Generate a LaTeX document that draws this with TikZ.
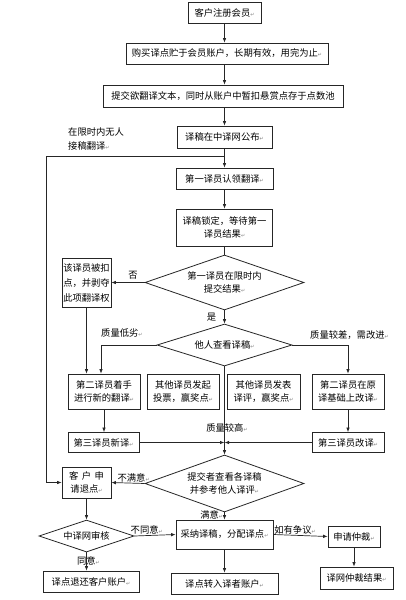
\documentclass[tikz,border=0pt]{standalone}
\usepackage{fontspec}
\setmainfont{Noto Sans CJK SC}
\newfontfamily\dvs{DejaVu Sans}
\usetikzlibrary{shapes.geometric,arrows.meta}
\newcommand\rmk{{\dvs\fontsize{5}{5}\selectfont\color{gray}↵}}
\tikzset{
  every node/.style={font=\fontsize{9.3}{13.5}\selectfont, inner sep=0pt},
  box/.style={draw=black!85, line width=0.8pt, align=center},
  bx/.style 2 args={box, minimum width=#1pt, minimum height=#2pt},
  dia/.style n args={3}{draw=black!85, diamond, line width=0.8pt, align=center, inner sep=0pt, minimum width=#1pt, minimum height=#2pt, aspect=#3},
  lbl/.style={font=\fontsize{9.3}{14}\selectfont, align=left},
  arr/.style={draw=black!85, -{Latex[length=4.5pt,width=3.5pt]}, line width=0.7pt},
  ln/.style={draw=black!85, line width=0.7pt}
}
\begin{document}
\begin{tikzpicture}[x=1pt,y=-1pt]
\useasboundingbox[fill=white] (0,0) rectangle (405,600);

% main column
\node[bx={73}{21}] (n1) at (224.5,12.5) {客户注册会员\rmk};
\node[bx={202}{21}] (n2) at (227,53.5) {购买译点贮于会员账户，长期有效，用完为止\rmk};
\node[bx={240}{22}] (n3) at (223,96) {提交欲翻译文本，同时从账户中暂扣悬赏点存于点数池};
\node[bx={95}{22}] (n4) at (224.5,137) {译稿在中译网公布\rmk};
\node[bx={97}{21}] (n5) at (224.5,178.5) {第一译员认领翻译\rmk};
\node[bx={96}{37}] (n6) at (224.5,227.5) {译稿锁定，等待第一\\译员结果\rmk};
\node[dia={159}{55}{2.9}] (d1) at (224.5,282.5) {第一译员在限时内\\提交结果\rmk};
\node[bx={49}{49}, align=left, font=\fontsize{9.3}{15}\selectfont] (n7) at (86.5,282.5) {该译员被扣\\点，并剥夺\\此项翻译权};
\node[dia={135}{42}{3.2}] (d2) at (224.5,345) {他人查看译稿\rmk};

\node[bx={72}{35}] (nA) at (104,391.5) {第二译员着手\\进行新的翻译\rmk};
\node[bx={72}{35}] (nB) at (183,391.5) {其他译员发起\\投票，赢奖点\rmk};
\node[bx={73}{35}] (nC) at (263.5,391.5) {其他译员发表\\译评，赢奖点\rmk};
\node[bx={72}{35}] (nD) at (348,391.5) {第二译员在原\\译基础上改译\rmk};
\node[bx={71}{20}] (nE) at (103.5,442.5) {第三译员新译\rmk};
\node[bx={72}{20}] (nF) at (348,442.5) {第三译员改译\rmk};

\node[dia={159}{57}{2.8}] (d3) at (224.5,483.5) {提交者查看各译稿\\并参考他人译评\rmk};
\node[bx={49}{31}] (nG) at (86.5,482.5) {客\hspace{3.5pt}户\hspace{3.5pt}申\\请退点\rmk};
\node[dia={95}{32}{3}] (d4) at (86.5,536) {中译网审核};
\node[bx={97}{29}] (nH) at (224.5,534.5) {采纳译稿，分配译点\rmk};
\node[bx={96}{21}] (nI) at (91,581.5) {译点退还客户账户\rmk};
\node[bx={107}{21}] (nJ) at (224.5,583.5) {译点转入译者账户\rmk};
\node[bx={52}{21}] (nK) at (354,536.5) {申请仲裁\rmk};
\node[bx={73}{22}] (nL) at (356.5,578) {译网仲裁结果\rmk};

% helper coordinates
\coordinate (j1) at (224.5,156);
\coordinate (cL) at (46,156);

% labels
\node[lbl, anchor=north west] (tNo) at (68,127) {在限时内无人\\接稿翻译\rmk};
\node[lbl, anchor=west] (tLow) at (101,333) {质量低劣\rmk};
\node[lbl, anchor=west] (tBad) at (310,335) {质量较差，需改进\rmk};
\node[lbl] (tHigh) at (227,428) {质量较高\rmk};

% connectors
\draw[arr] (n1.south) -- (n1.south |- n2.north);
\draw[arr] (n1.south |- n2.south) -- (n1.south |- n3.north);
\draw[arr] (n1.south |- n3.south) -- (n4.north);
\draw[arr] (n4.south) -- (n5.north);
\draw[arr] (j1) -- (cL) |- (nG.west);
\draw[arr] (n5.south) -- (n6.north);
\draw[ln] (n6.south) -- (d1.north);
\draw[arr] (d1.west) -- node[pos=0.35, above=3pt] {否} (n7.east);
\draw[arr] (d1.south) -- node[left=8pt] {是} (d2.north);
\draw[arr] (n7.south) -- (n7.south |- nA.north);
\draw[arr] (d2.west) -| ([xshift=-3pt]nA.north);
\draw[arr] (d2.east) -| (nD.north);
\draw[arr] (d2.south) -- (d3.north);
\draw[arr] (nA.south) -- (nA.south |- nE.north);
\draw[arr] (nD.south) -- (nD.south |- nF.north);
\draw[arr] (nE.east) -- (nE.east -| d2.south);
\draw[arr] (nF.west) -- (nF.west -| d2.south);
\draw[arr] (d3.west) -- node[pos=0.33, above=1pt] {不满意\rmk} (nG.east);
\draw[arr] (d3.south) -- node[left=1pt, pos=0.4] {满意\rmk} (nH.north);
\draw[arr] (nG.south) -- (d4.north);
\draw[arr] (d4.east) -- node[pos=0.3, above=1pt] {不同意\rmk} (nH.west);
\draw[arr] (d4.south) -- node[pos=0.45, xshift=2pt] {同意\rmk} (d4.south |- nI.north);
\draw[arr] (nH.south) -- (nJ.north);
\draw[arr] (nH.east) -- node[pos=0.4, above=1pt] {如有争议\rmk} (nK.west);
\draw[arr] (nK.south) -- (nK.south |- nL.north);
\end{tikzpicture}
\end{document}
